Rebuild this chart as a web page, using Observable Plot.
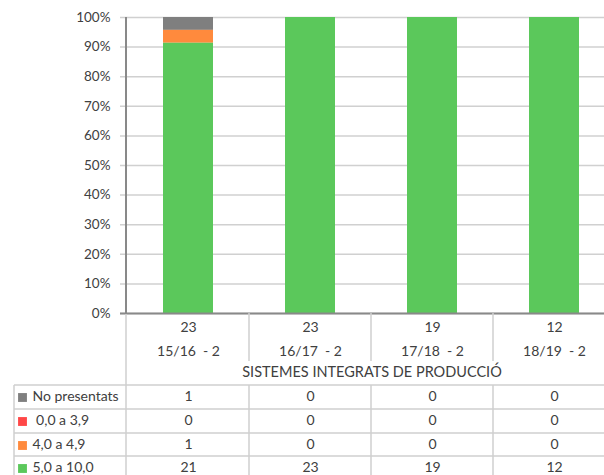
<!DOCTYPE html>
<html><head><meta charset="utf-8">
<script src="https://cdn.jsdelivr.net/npm/d3@7"></script>
<script src="https://cdn.jsdelivr.net/npm/@observablehq/plot@0.6"></script>
<style>
html,body{margin:0;padding:0;background:#fff;overflow:hidden;width:604px;height:475px}
</style>
</head><body><div id="chart"></div>
<script>
// ---- data ----
const periods = ["15/16\u00a0 - 2", "16/17\u00a0 - 2", "17/18\u00a0 - 2", "18/19\u00a0 - 2"];
const totals = [23, 23, 19, 12];
const bands = ["No presentats", "\u00a00,0 a 3,9", "4,0 a 4,9", "5,0 a 10,0"];
const noPresentats = [1, 0, 0, 0];
const suspens = [0, 0, 0, 0];
const gairebe = [1, 0, 0, 0];
const aprovats = [21, 23, 19, 12];
const bandColors = ["#7f7f7f", "#ff4747", "#ff8a3d", "#5bc85b"];
const subject = "SISTEMES INTEGRATS DE PRODUCCIÓ";
const yTicks = [0, 0.1, 0.2, 0.3, 0.4, 0.5, 0.6, 0.7, 0.8, 0.9, 1];

const series = [noPresentats, suspens, gairebe, aprovats];
const data = [];
periods.forEach((p, i) => bands.forEach((b, j) => data.push({period: p, band: b, count: series[j][i]})));
const totalOf = new Map(periods.map((p, i) => [p, totals[i]]));

const FONT = "Lato, 'Open Sans', sans-serif";
const TXT = "#404040";
const FS = 14;
const rowDy = [84, 108, 132, 155];
const TSHIFT = 3.5; // Lato glyphs sit high; nudge text down to row centre

const marks = [
  Plot.ruleY(yTicks, {stroke: "#d0d0d0", strokeWidth: 1.5, insetLeft: -6}),
  Plot.barY(data, Plot.stackY({offset: "normalize", order: [bands[3], bands[2], bands[1], bands[0]]},
    {x: "period", y: "count", fill: "band"})),
  Plot.ruleY([0], {stroke: "#898989", strokeWidth: 2, insetLeft: -6}),
  Plot.axisY({ticks: yTicks, tickFormat: d3.format(".0%"), tickSize: 0, tickPadding: 16, fill: "#404040", fontSize: 13.5, label: null}),
  Plot.axisX({tickSize: 0, tickPadding: 1, lineHeight: 1.75, fill: TXT, fontSize: FS, label: null,
    tickFormat: p => `${totalOf.get(p)}\n${p}`}),
  Plot.text([subject], {frameAnchor: "bottom", dy: 60 + TSHIFT, fill: TXT, fontSize: 14.5})
];
bands.forEach((b, j) => {
  marks.push(Plot.dot([b], {frameAnchor: "bottom-left", dx: -104, dy: rowDy[j], symbol: "square", r: 5, fill: bandColors[j], stroke: null}));
  marks.push(Plot.text([b], {frameAnchor: "bottom-left", textAnchor: "start", dx: -94, dy: rowDy[j] + TSHIFT, fill: TXT, fontSize: FS}));
  marks.push(Plot.text(periods, {x: d => d, text: (d, i) => String(series[j][i]), frameAnchor: "bottom", dy: rowDy[j] + TSHIFT, fill: TXT, fontSize: FS}));
});

const plot = Plot.plot({
  width: 617, height: 475,
  marginLeft: 126, marginRight: 0, marginTop: 17, marginBottom: 162,
  style: {fontFamily: FONT, fontSize: "14px", maxWidth: "none", overflow: "visible", background: "#fff"},
  x: {domain: periods, paddingInner: 0.59, paddingOuter: 0.295, axis: null, label: null},
  y: {domain: [0, 1], axis: null, label: null},
  color: {domain: bands, range: bandColors},
  marks
});
document.getElementById("chart").appendChild(plot);

// ---- table grid lines derived from the scales ----
const xs = plot.scale("x");
const step = xs.step ?? (xs.range[1] - xs.range[0]) / xs.domain.length;
const bw = xs.bandwidth ?? step * 0.41;
const centers = periods.map(p => xs.apply(p) + bw / 2);
const left = 126, right = 617, bottom = 475 - 162;
const svg = d3.select(plot);
const g = svg.append("g").attr("stroke", "#cfcfcf").attr("stroke-width", 1.5);
const rowLines = rowDy.map(d => bottom + d - 12).concat([bottom + rowDy[3] + 12]);
const tableTop = rowLines[0];
rowLines.forEach(y => g.append("line").attr("x1", 14).attr("x2", right).attr("y1", y).attr("y2", y));
g.append("line").attr("x1", 14).attr("x2", 14).attr("y1", tableTop).attr("y2", 480);
g.append("line").attr("x1", left).attr("x2", left).attr("y1", bottom).attr("y2", 480);
centers.slice(1).forEach(c => {
  const x = c - step / 2;
  g.append("line").attr("x1", x).attr("x2", x).attr("y1", bottom).attr("y2", bottom + 48);
  g.append("line").attr("x1", x).attr("x2", x).attr("y1", tableTop).attr("y2", 480);
});
svg.append("line").attr("x1", left).attr("x2", left).attr("y1", 17).attr("y2", bottom + 1)
  .attr("stroke", "#898989").attr("stroke-width", 2);
</script>
</body></html>
